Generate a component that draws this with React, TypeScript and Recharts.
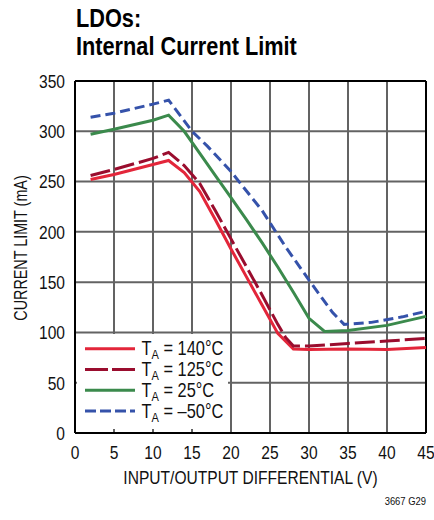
import React from "react";
import { LineChart, Line, XAxis, YAxis, CartesianGrid, ReferenceLine } from "recharts";

const FONT = "'Liberation Sans', Arial, sans-serif";
const SQ = 0.82;

const xTicks = [0, 5, 10, 15, 20, 25, 30, 35, 40, 45];
const yTicks = [0, 50, 100, 150, 200, 250, 300, 350];

const t140X = [2, 5, 10, 12, 14, 16, 18, 20, 22, 24, 26, 28, 30, 35, 40, 45];
const t140Y = [252, 257, 267, 271, 259, 240, 212, 183, 155, 127, 99, 83.5, 83, 83.5, 83, 85];

const t125X = [2, 5, 10, 12, 14, 16, 18, 20, 22, 24, 26, 27, 28, 30, 35, 40, 45];
const t125Y = [256, 262, 273, 279, 266, 248, 221, 193, 165, 137, 108, 95, 86.5, 86.5, 89, 91.5, 94];

const t25X = [2, 5, 10, 12, 14, 16, 18, 20, 22, 24, 26, 28, 30, 32, 35, 40, 45];
const t25Y = [297, 302, 311, 316, 300, 278, 256, 234, 212, 189, 165, 140, 114, 101, 102, 107, 116];

const tm50X = [2, 5, 10, 12, 15, 17, 20, 24, 27, 30, 33, 34.5, 38, 42, 45];
const tm50Y = [314, 318, 327, 331, 300, 285, 260, 221, 185, 152, 120, 108, 110, 115.5, 121];

const legendLabels = ["140°C", "125°C", "25°C", "–50°C"];
const seriesColors = ["#e3263a", "#9a0d2e", "#3b8a4c", "#3552aa"];
const chartDash = ["", "20 5", "", "10 5"];
const legendDash = ["", "23 4", "", "11 4"];

const toPoints = (xs: number[], ys: number[]) => xs.map((x, i) => ({ x, y: ys[i] }));

const series = [
  toPoints(t140X, t140Y),
  toPoints(t125X, t125Y),
  toPoints(t25X, t25Y),
  toPoints(tm50X, tm50Y),
];

type NTProps = {
  x: number;
  y: number;
  size: number;
  anchor?: "start" | "middle" | "end";
  bold?: boolean;
  rotate?: number;
  children: React.ReactNode;
};

function NarrowText({ x, y, size, anchor = "start", bold = false, rotate = 0, children }: NTProps) {
  return (
    <text
      x={0}
      y={0}
      transform={`translate(${x} ${y}) rotate(${rotate}) scale(${SQ} 1)`}
      textAnchor={anchor}
      fontFamily={FONT}
      fontSize={size}
      fontWeight={bold ? "bold" : "normal"}
      fill={bold ? "#000" : "#111"}
    >
      {children}
    </text>
  );
}

const XTick = (props: any) => {
  const { x, payload } = props;
  return (
    <NarrowText x={x} y={459} size={19} anchor="middle">
      {payload.value}
    </NarrowText>
  );
};

const YTick = (props: any) => {
  const { y, payload } = props;
  return (
    <NarrowText x={65} y={y + 6.8} size={19} anchor="end">
      {payload.value}
    </NarrowText>
  );
};

export default function App() {
  return (
    <div style={{ position: "absolute", left: 0, top: 0, width: 434, height: 520, background: "#fff" }}>
      <LineChart width={434} height={520} margin={{ top: 81, right: 8, bottom: 0, left: 0 }}>
        <CartesianGrid stroke="#636363" strokeWidth={2} />
        <XAxis
          type="number"
          dataKey="x"
          domain={[0, 45]}
          ticks={xTicks}
          height={87}
          tickLine={false}
          axisLine={{ stroke: "#000", strokeWidth: 2 }}
          tick={<XTick />}
          allowDuplicatedCategory={false}
        />
        <YAxis
          type="number"
          dataKey="y"
          domain={[0, 350]}
          ticks={yTicks}
          width={75}
          tickLine={false}
          axisLine={{ stroke: "#000", strokeWidth: 2 }}
          tick={<YTick />}
        />
        <ReferenceLine y={350} stroke="#000" strokeWidth={2} />
        <ReferenceLine x={45} stroke="#000" strokeWidth={2} />
        {series.map((d, i) => (
          <Line
            key={i}
            data={d}
            dataKey="y"
            type="linear"
            stroke={seriesColors[i]}
            strokeWidth={3}
            strokeDasharray={chartDash[i] || undefined}
            dot={false}
            activeDot={false}
            isAnimationActive={false}
          />
        ))}
      </LineChart>
      <svg width={434} height={520} style={{ position: "absolute", left: 0, top: 0, pointerEvents: "none" }}>
        <NarrowText x={76} y={27} size={26.5} bold>
          LDOs:
        </NarrowText>
        <NarrowText x={76} y={55} size={26.5} bold>
          Internal Current Limit
        </NarrowText>
        <NarrowText x={27} y={248} size={17.5} anchor="middle" rotate={-90}>
          CURRENT LIMIT (mA)
        </NarrowText>
        <NarrowText x={250.5} y={484} size={19} anchor="middle">
          INPUT/OUTPUT DIFFERENTIAL (V)
        </NarrowText>
        <NarrowText x={426} y={505} size={11.5} anchor="end">
          3667 G29
        </NarrowText>
        <g>
          <rect x={77} y={334} width={151} height={95} fill="#fff" />
          {legendLabels.map((lab, i) => {
            const y = 348.7 + i * 20.8;
            return (
              <g key={i}>
                <line
                  x1={85}
                  x2={135}
                  y1={y}
                  y2={y}
                  stroke={seriesColors[i]}
                  strokeWidth={3}
                  strokeDasharray={legendDash[i] || undefined}
                />
                <NarrowText x={141.5} y={y + 6.5} size={20}>
                  T
                  <tspan fontSize={13.5} dy={4}>A</tspan>
                  <tspan dy={-4}>{" = " + lab}</tspan>
                </NarrowText>
              </g>
            );
          })}
        </g>
      </svg>
    </div>
  );
}
